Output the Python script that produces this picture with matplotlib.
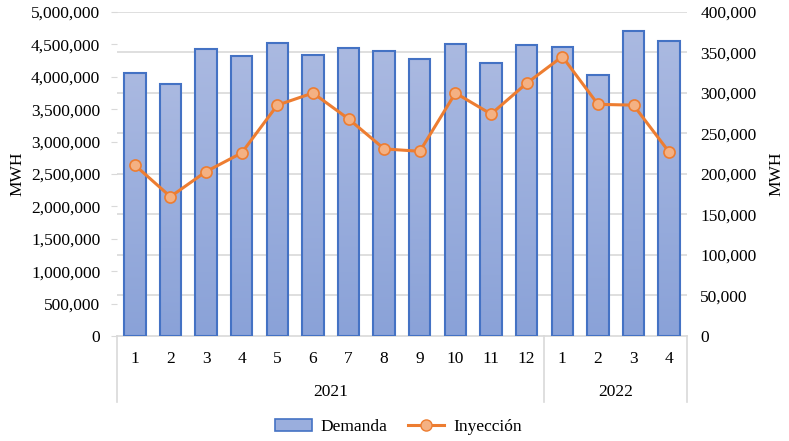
import numpy as np
import matplotlib.pyplot as plt
from matplotlib.patches import Rectangle
from matplotlib.ticker import FuncFormatter
from matplotlib.colors import LinearSegmentedColormap

plt.rcParams['font.family'] = ['Liberation Serif', 'DejaVu Serif']

meses = ['1', '2', '3', '4', '5', '6', '7', '8', '9', '10', '11', '12', '1', '2', '3', '4']
anios = ['2021', '2022']
meses_por_anio = [12, 4]
demanda = [4054000, 3884000, 4429000, 4321000, 4527000, 4332000, 4440000, 4403000,
           4280000, 4510000, 4218000, 4486000, 4455000, 4032000, 4711000, 4552000]
inyeccion = [211000, 172000, 203000, 226000, 285000, 300000, 268000, 231000,
             228000, 300000, 274000, 312000, 345000, 286000, 285000, 227000]

gris = '#D9D9D9'
fig = plt.figure(figsize=(7.89, 4.41), dpi=100)
ax = fig.add_axes([0.1483, 0.2381, 0.7224, 0.7347])
ax2 = ax.twinx()

x = np.arange(len(meses))
ancho = 0.6
ymax1 = 5000000
ymax2 = 400000

# lineas de cuadricula segun el eje derecho
for v in np.arange(50000, ymax2 + 1, 50000):
    ax.axhline(v * ymax1 / ymax2, color=gris, lw=1.2, zorder=-5)

# barras con degradado
ax.bar(x, demanda, width=ancho, color='#9AAEDD', zorder=1.5)
cmap = LinearSegmentedColormap.from_list('g', ['#8AA2D8', '#AAB9E1'])
grad = np.linspace(0, 1, 100).reshape(-1, 1)
for xi, d in zip(x, demanda):
    r = Rectangle((xi - ancho / 2, 0), ancho, d, facecolor='none',
                  edgecolor='#4472C4', lw=1.5, zorder=3)
    ax.add_patch(r)
    im = ax.imshow(grad, cmap=cmap, origin='lower', aspect='auto',
                   extent=[xi - ancho / 2, xi + ancho / 2, 0, d], zorder=2)
    im.set_clip_path(r)

ax.set_xlim(-0.5, len(meses) - 0.5)
ax.set_ylim(0, ymax1)
ax.set_yticks(np.arange(0, ymax1 + 1, 500000))
ax.yaxis.set_major_formatter(FuncFormatter(lambda v, p: f'{int(v):,}'))
ax.tick_params(axis='y', length=4, color=gris, labelsize=12.5, pad=8)
ax.set_xticks([])

ax2.plot(x, inyeccion, color='#ED7D31', lw=2.2, marker='o', markersize=8,
         markerfacecolor='#F4B183', markeredgecolor='#ED7D31', markeredgewidth=1.2,
         zorder=5)
ax2.set_ylim(0, ymax2)
ax2.set_yticks(np.arange(0, ymax2 + 1, 50000))
ax2.yaxis.set_major_formatter(FuncFormatter(lambda v, p: f'{int(v):,}'))
ax2.tick_params(axis='y', length=0, labelsize=12.5, pad=9.5)

for a in (ax, ax2):
    for s in a.spines.values():
        s.set_visible(False)
ax.spines['bottom'].set_visible(True)
ax.spines['bottom'].set_color(gris)
ax.spines['bottom'].set_linewidth(1.2)

ax.set_ylabel('MWH', fontsize=12.5, labelpad=4)
ax2.set_ylabel('MWH', fontsize=12.5, rotation=90, labelpad=9)

# eje de categorias con dos niveles
fondo = -0.204
trans = ax.get_xaxis_transform()
for xi, m in zip(x, meses):
    ax.text(xi, -0.072, m, transform=trans, ha='center', va='center', fontsize=12.5)
inicio = -0.5
ax.plot([inicio, inicio], [0, fondo], transform=trans, color=gris, lw=1.2, clip_on=False)
for anio, n in zip(anios, meses_por_anio):
    fin = inicio + n
    ax.plot([fin, fin], [0, fondo], transform=trans, color=gris, lw=1.2, clip_on=False)
    ax.text((inicio + fin) / 2, -0.172, anio, transform=trans, ha='center', va='center',
            fontsize=12.5)
    inicio = fin

h1 = Rectangle((0, 0), 1, 1, facecolor='#9AAEDD', edgecolor='#4472C4', lw=1.2)
h2, = ax2.plot([], [], color='#ED7D31', lw=2.2, marker='o', markersize=8,
               markerfacecolor='#F4B183', markeredgecolor='#ED7D31')
fig.legend([h1, h2], ['Demanda', 'Inyección'], loc='center', bbox_to_anchor=(0.505, 0.031),
           ncol=2, frameon=False, fontsize=12.5, handlelength=2.1, columnspacing=1.2,
           handletextpad=0.5)

fig.savefig('out.png', dpi=100)
